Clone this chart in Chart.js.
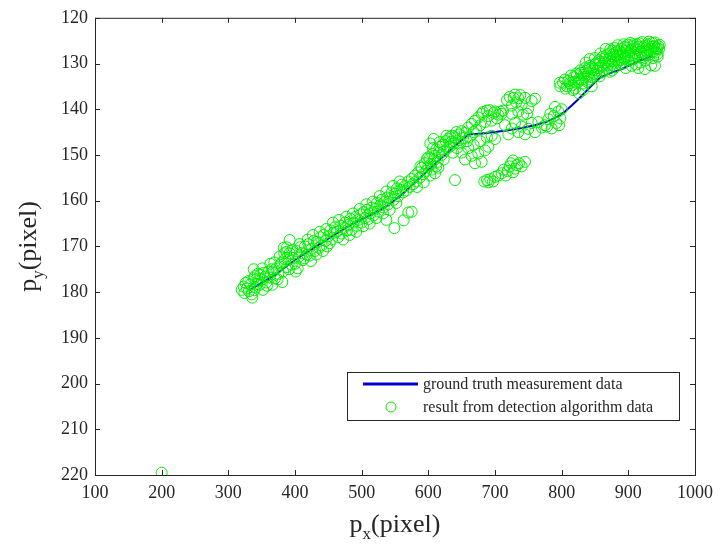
<!DOCTYPE html>
<html>
<head>
<meta charset="utf-8">
<script src="https://cdn.jsdelivr.net/npm/chart.js@4"></script>
<style>
  body { margin: 0; background: #fff; }
  canvas { display: block; }
</style>
</head>
<body>
<canvas id="trackChart" width="720" height="550"></canvas>
<script>
// axis ranges / ticks
const xRange = [100, 1000];
const yRange = [120, 220];
const xStep = 100;
const yStep = 10;

const legendLabels = ["ground truth measurement data", "result from detection algorithm data"];

// ground truth path (blue line)
const truthX = [332, 350, 370, 390, 410, 435, 460, 485, 515, 540, 560, 580, 600, 620, 640, 660, 680, 700,
  720, 740, 760, 780, 795, 805, 815, 825, 835, 845, 858, 875, 890, 905, 920, 935];
const truthY = [179.5, 178, 176.3, 174, 172, 169.7, 167.4, 165.2, 163, 161, 158.7, 156, 153.3, 150.6, 148, 145.5, 145.3, 145,
  144.6, 144.1, 143.5, 142.6, 141.5, 140.5, 139.2, 137.8, 136.3, 134.8, 133, 132, 131.2, 130.2, 129.2, 128.4];

// detection results, [x, y]
const detStart = [[320,179.5],[323,178.8],[326,178],[328,179.2],[330,177.6],[333,178.3],[335,180.5],[336,181.2],
  [338,177],[340,176.5],[341,179],[343,178.2],[345,177.5],[347,178.4],[348,176.2],[350,177.3],[352,179.5],[353,175.8],
  [355,176.6],[357,177.9],[360,175.5],[362,176.8],[365,175],[338,175],[366,178.4],[381,177.8],
  [324,180.2],[331,179.8],[339,179.6],[344,176],[351,174.8],[358,178.6],[363,173.8]];

const detLower = [[367,175.5],[370,177],[372,174.8],[375,176],[378,174],[380,173.5],[382,175.5],[385,172.8],[387,171.2],
  [388,174.5],[390,173],[392,171.5],[395,174],[397,172.5],[400,173.8],[402,171],[404,174.8],[406,172.2],[408,170.2],
  [410,171.5],[412,173],[415,170],[418,171.8],[420,169.5],[422,172],[425,170.5],[428,168.8],[430,171],[433,169],
  [436,170.3],[438,168],[440,169.8],[443,167.5],[446,168.8],[448,170],[450,167.8],[453,166.5],[455,168.5],[458,167],
  [460,165.8],[392,168.6],[388,170.2],[384,171.5],
  [369,173.5],[374,177.2],[377,172.2],[383,170.3],[391,175],[396,170.8],[401,175.5],[407,169.5],[414,172.6],
  [419,168.5],[424,173.2],[427,167.5],[432,171.8],[437,166.8],[442,171],[447,166.2],[452,169.3],[457,164.8]];

const detMiddle = [[463,166.8],[465,168],[468,165.5],[470,167.2],[473,166],[475,164.8],[478,166.5],[480,165.3],[483,164],
  [485,166.4],[488,164.8],[490,163.6],[493,165.5],[495,164.2],[498,163],[500,164.8],[503,162.5],[505,163.8],[508,162],
  [510,164],[513,162.8],[515,161.5],[518,163.2],[520,161.8],[523,160.5],[525,162.4],[528,161],[530,159.8],[533,161.5],
  [535,160.2],[538,159.3],[540,160.8],[543,159.5],[545,158.2],[548,159.8],[550,158.5],[553,157.3],[555,159],[558,157.6],
  [560,156.5],[537,164.2],[549,166],[563,164.3],[575,162.4],[570,162.6],
  [466,164.2],[472,168.5],[477,163.5],[482,167.5],[487,162.8],[492,166.8],[497,161.8],[502,165.6],[507,160.8],
  [512,165],[517,160.2],[522,163.8],[527,159],[532,162.8],[537,158],[542,162],[547,156.8],[552,160.5],[557,155.8]];

const detBend = [[562,158.2],[565,156.8],[567,157.8],[570,155.8],[572,157],[575,155.2],[577,156.4],[580,154.5],[582,155.8],
  [585,153.8],[587,155],[590,152.8],[592,154.2],[595,151.8],[597,153.5],[600,152.5],[602,150.8],[604,152],[606,149.8],
  [608,151.2],[610,150.2],[612,148.8],[614,151.5],[616,149.5],[618,148.2],[620,150],[622,147.8],[624,149.2],[626,147],
  [628,148.5],[630,146.5],[632,148.2],[634,147.2],[636,145.8],[638,147.5],[640,146.2],[642,145],[645,146.8],[600,150.5],
  [605,153.2],[610,154],[615,152.8],[583,157],[588,152.5],[593,156],[598,150.8],[603,154.5],[607,148.5],[612,152.5],
  [617,147.2],[623,151],[627,145.8],[633,146],[637,149.5],[643,148.5],[603,147.5],[608,146.5]];

const detPlateau = [[646,145.5],[648,147.5],[650,144.8],[652,146.3],[655,145.2],[658,147],[660,144],[662,146],[665,143.2],
  [668,145],[670,142.5],[672,144.5],[675,141.8],[678,143.5],[680,141],[682,140.6],[685,142.8],[688,140.3],[690,141.5],
  [692,140.2],[695,142.5],[698,140.8],[700,140.5],[703,142],[705,141.2],[708,140.5],[710,141],[712,140.3],
  [650,149.5],[655,151],[660,148.5],[665,150.2],[668,147.8],[670,151.8],[675,149.7],[680,151.5],[685,149],[690,148.2],
  [695,145.8],[700,146.5],[688,146.2],[678,147],[640,155.5]];

const detLowCluster = [[684,155.8],[688,155.5],[690,156],[693,155.3],[697,155.8],[700,154.8],[705,154.5],[710,154],
  [713,153.2],[716,154.5],[719,153.5],[722,152.5],[724,151.8],[727,153.8],[730,153],[733,152.2],[736,151.8],[740,152.5],
  [745,151.5],[727,151.2]];

const detHighCluster = [[718,138],[722,137.3],[725,139.2],[728,137.5],[730,136.8],[732,138.5],[735,137.6],[738,136.9],
  [740,139],[742,141.2],[745,137.5],[748,141],[750,139.8],[755,138.2],[760,137.7],[725,141],[735,140.5]];

const detFlat = [[715,143.5],[720,145.5],[725,144.2],[730,143],[735,145],[740,143.8],[745,145.5],[750,144.3],[755,143],
  [760,145],[765,142.8],[770,144],[775,143.5],[780,142.2],[785,144.2],[788,141.5],[792,143],[795,140.5],[798,142],
  [800,140],[790,139.5],[796,143.5],[783,141],[778,143.8]];

const detRise = [[798,135],[802,134.2],[806,135.5],[810,133.8],[815,134.8],[818,133],[820,135.5],[822,132.2],[825,134],
  [828,131.5],[830,133.5],[833,132.5],[835,131],[838,134],[840,132.3],[842,130.5],[845,133],[848,131.5],[850,130.2],
  [852,132.5],[855,131],[858,129.6],[860,132],[826,136.5],[832,135.8],[845,135],
  [797,134.2],[805,133.5],[808,135],[812,134.3],[814,132.6],[817,135.8],[819,134]];

const detEnd = [[862,130.5],[865,128.8],[868,131.2],[870,129.5],[872,127.8],[875,130.3],[878,128.5],[880,130.8],[882,127.5],
  [885,129.6],[888,128],[890,126.8],[892,130],[895,128.4],[898,126.5],[900,129.3],[902,127.5],[905,130.5],[907,126.2],
  [910,128.3],[912,130.2],[915,127],[917,125.6],[920,128.6],[922,126.5],[925,129.4],[927,127.3],[930,125.8],[932,128],
  [935,126.8],[937,128.8],[939,126.2],[941,127.5],[943,126.6],[940,130.5],[925,131.2],[915,131],[888,129.3],[872,131.8],
  [896,131]];

const detEndDense = [[821,134.2],[823,132.6],[826,133.4],[829,132],[831,134.4],[834,133],[836,131.6],[839,132.8],[841,131],
  [843,133.5],[846,130.8],[849,132.2],[851,130],[853,131.5],[856,129.3],[857,132.8],[859,130.6],[861,128.6],[863,131.6],
  [864,129.8],[867,128.2],[869,130.4],[871,128.9],[873,126.9],[874,129.6],[877,128],[879,126.6],[881,129.2],[883,128.3],
  [886,127.1],[887,130.1],[889,128.6],[891,127.6],[894,126.4],[896,128.7],[897,127.2],[899,125.9],[901,128.4],[904,127],
  [906,128.9],[908,125.8],[909,127.7],[911,126.7],[914,128.5],[916,126.3],[919,127.5],[921,125.3],[923,127.8],[924,126.2],
  [926,128.2],[929,126.9],[931,125.2],[933,127.4],[936,126.3],[938,127.3],[940,125.4],[942,126.9],[944,127.9],[946,126.8],
  [947,125.9],[866,126.8],[876,127.2],[884,126],[893,125.8],[903,125.5],[913,125.8],[928,126],[936,125.5],[944,128.5],
  [858,127.8],[850,128.8],[842,129],[836,129.8],[876,131.5],[894,129],[918,129.8],[934,130.4],[908,129],[945,126.2]];

const detOutlier = [[200,219.5]];

const axisColor = "#262626";
const lineBlue = "#0000d0";
const circleGreen = "#00ee00";
const serif = "'Liberation Serif', 'Times New Roman', serif";

const allDet = [].concat(detStart, detLower, detMiddle, detBend, detPlateau, detLowCluster,
  detHighCluster, detFlat, detRise, detEnd, detEndDense, detOutlier);

function drawTitle(ctx, main, sub, rest, cx, base) {
  ctx.font = "26px " + serif;
  const w1 = ctx.measureText(main).width;
  const w3 = ctx.measureText(rest).width;
  ctx.font = "17px " + serif;
  const w2 = ctx.measureText(sub).width;
  let x0 = cx - (w1 + w2 + w3) / 2;
  ctx.textAlign = "left";
  ctx.textBaseline = "alphabetic";
  ctx.fillStyle = axisColor;
  ctx.font = "26px " + serif;
  ctx.fillText(main, x0, base);
  ctx.font = "17px " + serif;
  ctx.fillText(sub, x0 + w1, base + 7);
  ctx.font = "26px " + serif;
  ctx.fillText(rest, x0 + w1 + w2, base);
}

const framePlugin = {
  id: "frame",
  afterDraw(chart) {
    const { ctx, chartArea: a, scales } = chart;
    const xs = scales.x, ys = scales.y;
    ctx.save();
    ctx.strokeStyle = axisColor;
    ctx.lineWidth = 1;
    ctx.strokeRect(a.left + 0.5, a.top + 0.5, a.right - a.left, a.bottom - a.top);
    ctx.beginPath();
    xs.ticks.forEach(t => {
      const px = Math.round(xs.getPixelForValue(t.value)) + 0.5;
      ctx.moveTo(px, a.bottom); ctx.lineTo(px, a.bottom - 5);
      ctx.moveTo(px, a.top); ctx.lineTo(px, a.top + 5);
    });
    ys.ticks.forEach(t => {
      const py = Math.round(ys.getPixelForValue(t.value)) + 0.5;
      ctx.moveTo(a.left, py); ctx.lineTo(a.left + 5, py);
      ctx.moveTo(a.right, py); ctx.lineTo(a.right - 5, py);
    });
    ctx.stroke();

    // axis titles
    drawTitle(ctx, "p", "x", "(pixel)", (a.left + a.right) / 2, 532);
    ctx.save();
    ctx.translate(36, (a.top + a.bottom) / 2);
    ctx.rotate(-Math.PI / 2);
    drawTitle(ctx, "p", "y", "(pixel)", 0, 0);
    ctx.restore();

    // legend box
    const lx = 347, ly = 372, lw = 332, lh = 48;
    ctx.fillStyle = "#fff";
    ctx.fillRect(lx, ly, lw, lh);
    ctx.strokeStyle = axisColor;
    ctx.strokeRect(lx + 0.5, ly + 0.5, lw, lh);
    ctx.strokeStyle = lineBlue;
    ctx.lineWidth = 3;
    ctx.beginPath();
    ctx.moveTo(363, 384); ctx.lineTo(418, 384);
    ctx.stroke();
    ctx.strokeStyle = circleGreen;
    ctx.lineWidth = 1;
    ctx.beginPath();
    ctx.arc(391, 407, 5, 0, Math.PI * 2);
    ctx.stroke();
    ctx.fillStyle = axisColor;
    ctx.font = "16px " + serif;
    ctx.textAlign = "left";
    ctx.textBaseline = "middle";
    ctx.fillText(legendLabels[0], 423, 385);
    ctx.fillText(legendLabels[1], 423, 408);
    ctx.restore();
  }
};

const ctx = document.getElementById("trackChart").getContext("2d");
new Chart(ctx, {
  type: "scatter",
  data: {
    datasets: [{
      label: legendLabels[0],
      data: truthX.map((x, i) => ({ x: x, y: truthY[i] })),
      showLine: true,
      borderColor: lineBlue,
      borderWidth: 2,
      pointRadius: 0,
      fill: false,
      order: 2
    }, {
      label: legendLabels[1],
      data: allDet.map(p => ({ x: p[0], y: p[1] })),
      pointStyle: "circle",
      pointRadius: 5.5,
      borderWidth: 1,
      borderColor: circleGreen,
      backgroundColor: "rgba(0,0,0,0)",
      order: 1
    }]
  },
  options: {
    responsive: false,
    animation: false,
    layout: { padding: { top: 13, right: 20, left: 0, bottom: 0 } },
    plugins: {
      legend: { display: false },
      tooltip: { enabled: false }
    },
    scales: {
      x: {
        type: "linear",
        min: xRange[0], max: xRange[1],
        ticks: { stepSize: xStep, color: axisColor, font: { family: serif, size: 18 }, padding: 7,
          callback: v => String(v) },
        grid: { display: false, drawTicks: false },
        border: { display: false },
        afterFit: s => { s.height = 75; }
      },
      y: {
        type: "linear",
        reverse: true,
        min: yRange[0], max: yRange[1],
        ticks: { stepSize: yStep, color: axisColor, font: { family: serif, size: 18 }, padding: 7,
          callback: v => String(v) },
        grid: { display: false, drawTicks: false },
        border: { display: false },
        afterFit: s => { s.width = 95; }
      }
    }
  },
  plugins: [framePlugin]
});
</script>
</body>
</html>
